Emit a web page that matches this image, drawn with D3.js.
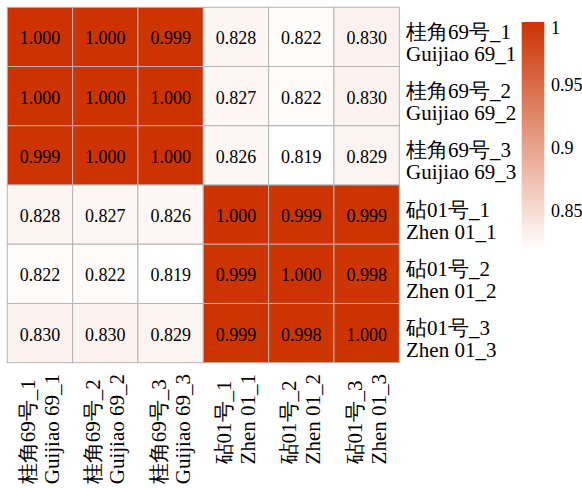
<!DOCTYPE html>
<html><head><meta charset="utf-8">
<script src="https://cdn.jsdelivr.net/npm/d3@7"></script>
<style>
body{margin:0;background:#fff;}
</style></head>
<body><svg id="c" width="582" height="488"></svg>
<script>
const labelsCN = ["桂角69号_1","桂角69号_2","桂角69号_3","砧01号_1","砧01号_2","砧01号_3"];
const labelsEN = ["Guijiao 69_1","Guijiao 69_2","Guijiao 69_3","Zhen 01_1","Zhen 01_2","Zhen 01_3"];
const row1 = [1.000,1.000,0.999,0.828,0.822,0.830];
const row2 = [1.000,1.000,1.000,0.827,0.822,0.830];
const row3 = [0.999,1.000,1.000,0.826,0.819,0.829];
const row4 = [0.828,0.827,0.826,1.000,0.999,0.999];
const row5 = [0.822,0.822,0.819,0.999,1.000,0.998];
const row6 = [0.830,0.830,0.829,0.999,0.998,1.000];
const legendTicks = [1, 0.95, 0.9, 0.85];
const legendTickLabels = ["1","0.95","0.9","0.85"];

const matrix = [row1,row2,row3,row4,row5,row6];
const vmin = 0.819, vmax = 1.0;
const FONT = "Liberation Serif";

const svg = d3.select("#c");
const idx = d3.range(6);
const x = d3.scaleBand().domain(idx).range([7.3, 399.3]);
const y = d3.scaleBand().domain(idx).range([7.3, 362.7]);
const color = d3.scaleLinear().domain([vmin, vmax]).range(["#ffffff","#cc3300"]);

const cells = [];
matrix.forEach((r,i)=>r.forEach((v,j)=>cells.push({i,j,v})));

svg.append("g").selectAll("rect").data(cells).join("rect")
  .attr("x",d=>x(d.j)).attr("y",d=>y(d.i))
  .attr("width",x.bandwidth()).attr("height",y.bandwidth())
  .attr("fill",d=>color(d.v)).attr("stroke","#b5b5b5").attr("stroke-width",1);

svg.append("g").selectAll("text").data(cells).join("text")
  .attr("font-family",FONT).attr("font-size",18)
  .attr("x",d=>x(d.j)+x.bandwidth()/2).attr("y",d=>y(d.i)+y.bandwidth()/2+7.5)
  .attr("text-anchor","middle")
  .text(d=>d3.format(".3f")(d.v));

// row labels (one text with two lines)
const rl = svg.append("g");
idx.forEach(i=>{
  const cy = y(i)+y.bandwidth()/2;
  const t = rl.append("text").attr("font-family",FONT).attr("font-size",21);
  t.append("tspan").attr("x",406).attr("y",cy+2).text(labelsCN[i]);
  t.append("tspan").attr("x",406).attr("y",cy+24).text(labelsEN[i]);
});

// column labels (rotated, block top-aligned, lines start-aligned)
const cl = svg.append("g");
idx.forEach(j=>{
  const cx = x(j)+x.bandwidth()/2;
  const t = cl.append("text").attr("font-family",FONT).attr("font-size",21);
  const s1 = t.append("tspan").attr("x",0).attr("y",-5).text(labelsCN[j]);
  const s2 = t.append("tspan").attr("x",0).attr("y",19).text(labelsEN[j]);
  const maxLen = Math.max(s1.node().getComputedTextLength(), s2.node().getComputedTextLength());
  const yStart = 374 + maxLen;
  t.attr("transform",`translate(${cx},${yStart}) rotate(-90)`);
});

// legend
const ly = d3.scaleLinear().domain([vmin, vmax]).range([250, 22]);
const defs = svg.append("defs");
const grad = defs.append("linearGradient").attr("id","lg").attr("x1",0).attr("y1",1).attr("x2",0).attr("y2",0);
d3.range(0,1.0001,0.1).forEach(t=>{
  grad.append("stop").attr("offset",t).attr("stop-color",color(vmin+t*(vmax-vmin)));
});
svg.append("rect").attr("x",521.7).attr("y",ly(vmax)).attr("width",22.6)
  .attr("height",ly(vmin)-ly(vmax)).attr("fill","url(#lg)");
svg.append("g").selectAll("text").data(legendTicks).join("text")
  .attr("font-family",FONT).attr("font-size",18)
  .attr("x",551).attr("y",d=>Math.max(ly(d), ly(vmax)+5)+6.5)
  .text((d,i)=>legendTickLabels[i]);
</script></body></html>
